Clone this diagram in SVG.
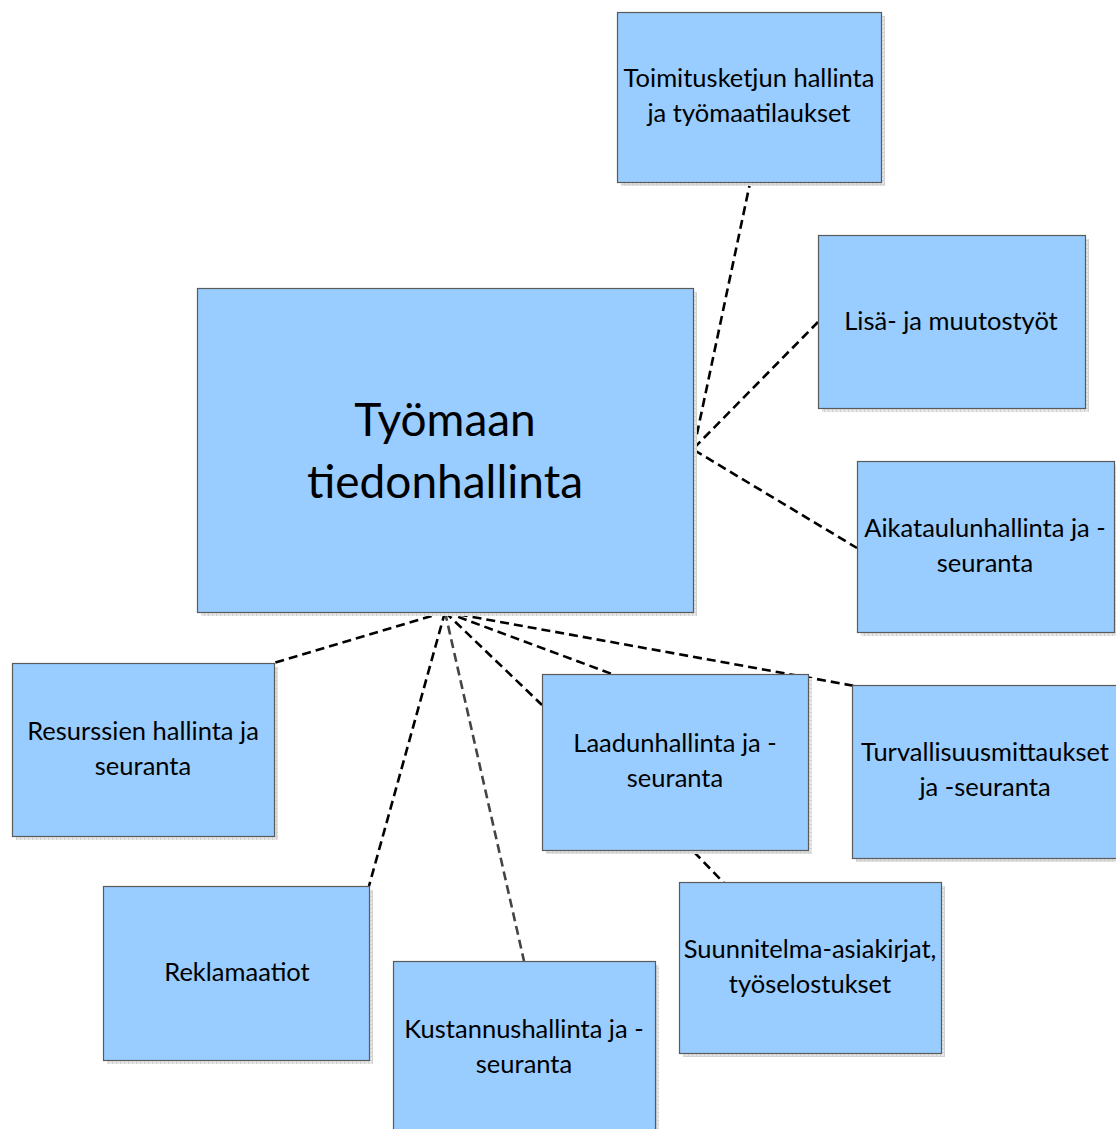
<svg xmlns="http://www.w3.org/2000/svg" width="1116" height="1129" viewBox="0 0 1116 1129">
  <style>
    .box { fill: #99ccff; stroke: #5a5a5a; stroke-width: 1.2; }
    .shadow { fill: url(#grid); }
    .lbl { font-family: Lato, "Open Sans", "Liberation Sans", sans-serif; font-size: 25.5px; fill: #000; text-anchor: middle; }
    .big { font-size: 46px; }
    .link { fill: none; stroke: #000; stroke-width: 2.6; stroke-dasharray: 9 5; }
    .grey { stroke: #444; }
  </style>
  <defs>
    <pattern id="grid" width="4" height="4" patternUnits="userSpaceOnUse">
      <rect width="4" height="4" fill="#e6e6e6"/>
      <path d="M0 0.5H4M0.5 0V4" stroke="#d2d2d2" stroke-width="1"/>
    </pattern>
  </defs>
  <rect width="1116" height="1129" fill="#fff"/>

  <g id="connectors">
    <line class="link" x1="694" y1="448" x2="750" y2="183"/>
    <line class="link" x1="694" y1="448" x2="818" y2="322"/>
    <line class="link" x1="694" y1="450" x2="857" y2="548"/>
    <line class="link" x1="445" y1="612" x2="274" y2="663"/>
    <line class="link" x1="445" y1="612" x2="369" y2="886"/>
    <line class="link grey" x1="445" y1="612" x2="524" y2="961"/>
    <line class="link" x1="445" y1="612" x2="542" y2="705"/>
    <line class="link" x1="445" y1="612" x2="612" y2="674"/>
    <line class="link" x1="445" y1="612" x2="855" y2="686"/>
    <line class="link" x1="694" y1="852" x2="724" y2="883"/>
  </g>

  <g id="center">
    <rect class="shadow" x="201" y="292" width="496" height="324"/>
    <rect class="box" x="197.5" y="288.5" width="496" height="324"/>
    <text class="lbl big" x="445" y="436">Työmaan</text>
    <text class="lbl big" x="445" y="498">tiedonhallinta</text>
  </g>

  <g id="toimitus">
    <rect class="shadow" x="621" y="16" width="264" height="170"/>
    <rect class="box" x="617.5" y="12.5" width="264" height="170"/>
    <text class="lbl" x="749" y="87">Toimitusketjun hallinta</text>
    <text class="lbl" x="749" y="122">ja työmaatilaukset</text>
  </g>

  <g id="lisa">
    <rect class="shadow" x="822" y="239" width="267" height="173"/>
    <rect class="box" x="818.5" y="235.5" width="267" height="173"/>
    <text class="lbl" x="951" y="330">Lisä- ja muutostyöt</text>
  </g>

  <g id="aikataulu">
    <rect class="shadow" x="861" y="465" width="258" height="171"/>
    <rect class="box" x="857.5" y="461.5" width="257" height="171"/>
    <text class="lbl" x="985" y="537">Aikataulunhallinta ja -</text>
    <text class="lbl" x="985" y="572">seuranta</text>
  </g>

  <g id="resurssit">
    <rect class="shadow" x="16" y="667" width="262" height="173"/>
    <rect class="box" x="12.5" y="663.5" width="262" height="173"/>
    <text class="lbl" x="143" y="740">Resurssien hallinta ja</text>
    <text class="lbl" x="143" y="775">seuranta</text>
  </g>

  <g id="laatu">
    <rect class="shadow" x="546" y="678" width="266" height="176"/>
    <rect class="box" x="542.5" y="674.5" width="266" height="176"/>
    <text class="lbl" x="675" y="752">Laadunhallinta ja -</text>
    <text class="lbl" x="675" y="787">seuranta</text>
  </g>

  <g id="turvallisuus">
    <rect class="shadow" x="856" y="689" width="264" height="173"/>
    <rect class="box" x="852.5" y="685.5" width="266" height="173"/>
    <text class="lbl" x="985" y="761">Turvallisuusmittaukset</text>
    <text class="lbl" x="985" y="796">ja -seuranta</text>
  </g>

  <g id="reklamaatiot">
    <rect class="shadow" x="107" y="890" width="266" height="174"/>
    <rect class="box" x="103.5" y="886.5" width="266" height="174"/>
    <text class="lbl" x="237" y="981">Reklamaatiot</text>
  </g>

  <g id="kustannus">
    <rect class="shadow" x="397" y="965" width="262" height="170"/>
    <rect class="box" x="393.5" y="961.5" width="262" height="170"/>
    <text class="lbl" x="524" y="1038">Kustannushallinta ja -</text>
    <text class="lbl" x="524" y="1073">seuranta</text>
  </g>

  <g id="suunnitelma">
    <rect class="shadow" x="683" y="886" width="262" height="171"/>
    <rect class="box" x="679.5" y="882.5" width="262" height="171"/>
    <text class="lbl" x="810" y="958">Suunnitelma-asiakirjat,</text>
    <text class="lbl" x="810" y="993">työselostukset</text>
  </g>
</svg>
